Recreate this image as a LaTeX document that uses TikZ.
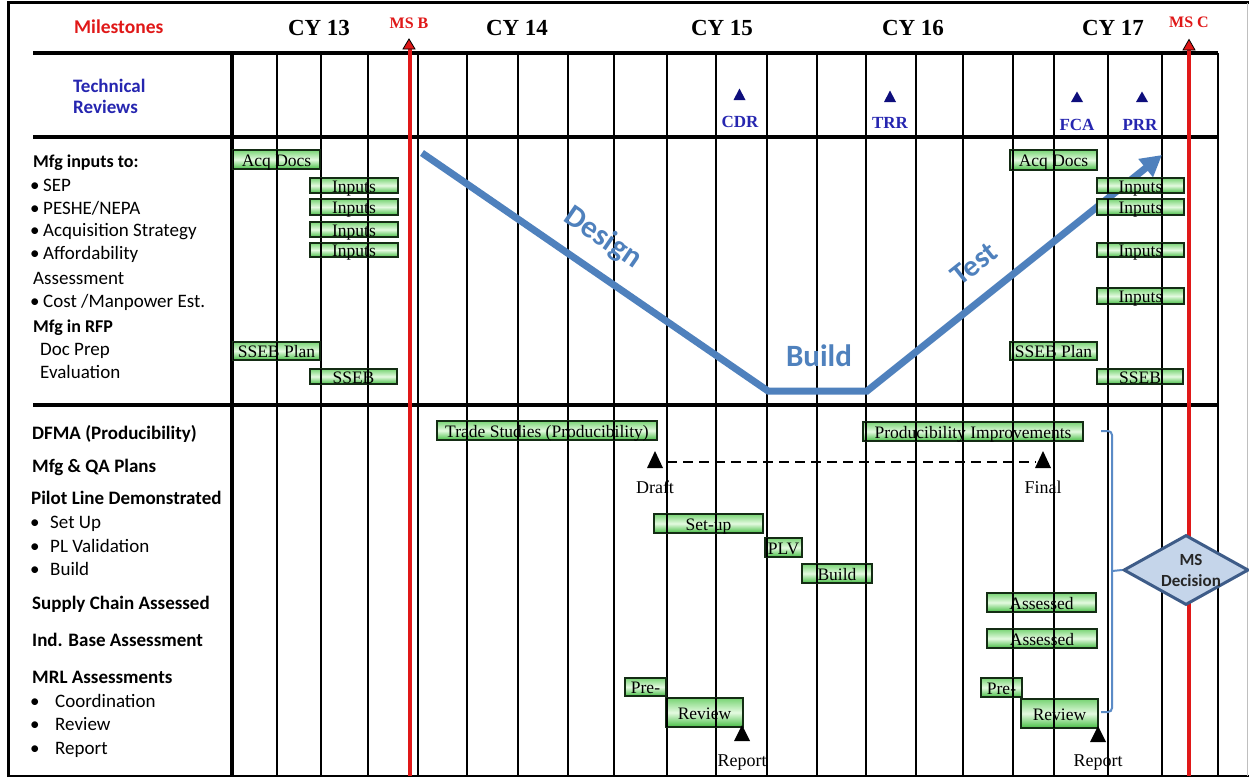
\documentclass[tikz,border=0pt]{standalone}
\usepackage{fontspec}
\setmainfont{Liberation Serif}
\newfontfamily\calfont{Carlito}
\usetikzlibrary{shapes.geometric,arrows.meta}
\definecolor{msred}{HTML}{E01818}
\definecolor{trblue}{HTML}{2626B0}
\definecolor{trtri}{HTML}{0E0E7C}
\definecolor{vblue}{HTML}{4F81BD}
\definecolor{barlight}{HTML}{E4FAE0}
\definecolor{bartop}{HTML}{78D474}
\definecolor{barbot}{HTML}{46BE44}
\definecolor{barborder}{HTML}{142C14}
\definecolor{dfill}{HTML}{C5D5EA}
\definecolor{dline}{HTML}{3E5C88}
\definecolor{bracecol}{HTML}{5B8BC6}
\newcommand\greenbar[6]{%
  \pgfmathsetmacro\gbw{#3-#2}\pgfmathsetmacro\gbh{#5-#4}%
  \pgfmathsetmacro\gbx{(#2+#3)/2}\pgfmathsetmacro\gby{(#4+#5)/2}%
  \node[gbar, minimum width=\gbw pt, minimum height=\gbh pt] (#1) at (\gbx,\gby) {};
  \node[bartext, anchor=base] (#1t) at ([yshift=-6.5pt]#1.center) {#6};
}
\begin{document}
\begin{tikzpicture}[x=1pt,y=-1pt,
  gridline/.style={line width=1.6pt, black},
  thickgrid/.style={line width=3.5pt, black},
  sepline/.style={line width=4pt, black},
  msline/.style={line width=4pt, msred},
  gbar/.style={draw=barborder, line width=1.6pt, inner sep=0pt, outer sep=0pt, top color=bartop, bottom color=barbot, middle color=barlight},
  bartext/.style={inner sep=0pt, font=\fontsize{17.5}{20}\selectfont},
  lab/.style={anchor=base west, inner sep=0pt, font=\calfont\fontsize{19}{22}\selectfont},
  labb/.style={anchor=base west, inner sep=0pt, font=\calfont\bfseries\fontsize{18}{22}\selectfont},
  low/.style={anchor=base west, inner sep=0pt, font=\calfont\fontsize{19}{22}\selectfont},
  lowb/.style={anchor=base west, inner sep=0pt, font=\calfont\bfseries\fontsize{19}{22}\selectfont},
  cy/.style={anchor=base, inner sep=0pt, font=\bfseries\fontsize{23}{26}\selectfont},
  mslab/.style={anchor=base, inner sep=0pt, text=msred, font=\bfseries\fontsize{16}{18}\selectfont},
  trlab/.style={anchor=base, inner sep=0pt, text=trblue, font=\bfseries\fontsize{17}{20}\selectfont},
  evlab/.style={anchor=base, inner sep=0pt, font=\fontsize{18}{20}\selectfont},
  vtext/.style={inner sep=0pt, text=vblue, font=\calfont\bfseries\fontsize{31}{33}\selectfont},
  ttri/.style={fill=trtri},
  btri/.style={fill=black},
  mtri/.style={fill=msred, draw=black, line width=0.8pt}
]
\useasboundingbox (0,0) rectangle (1249,777);
\fill[white] (0,0) rectangle (1249,777);
% frame
\draw[line width=3pt] (8.5,777) -- (8.5,2.5) -- (1249,2.5);
\draw[line width=2pt] (8.5,776) -- (1249,776);
\draw[line width=1pt, gray!50] (1247.5,2.5) -- (1247.5,776);
% separators
\foreach \y in {53,137,405} \draw[sepline] (33,\y) -- (1218,\y);
% grid
\foreach \x in {277,321,368,418,467,518,568,614,667,716,767,817,866,916,963,1013,1054,1108,1162,1218}
  \draw[gridline] (\x,53) -- (\x,776);
\draw[thickgrid] (232,53) -- (232,776);
% milestone lines
\draw[msline] (410,49) -- (410,776);
\draw[msline] (1189,49) -- (1189,776);
\draw[mtri] (403,49) -- (409,39) -- (415,49) -- cycle;
\draw[mtri] (1183,50) -- (1189,39.5) -- (1195,50) -- cycle;
% V curve
\coordinate (v0) at (422,153);
\coordinate (v1) at (768,391);
\coordinate (v2) at (867,391);
\coordinate (v3) at (1162,155);
\draw[vblue, line width=7pt, -{Triangle[length=21pt,width=22pt]}] (v0) -- (v1) -- (v2) -- (v3);
\node[vtext, rotate=-34.5] (design) at (603,238) {Design};
\node[vtext, rotate=38.5, font=\calfont\bfseries\fontsize{30}{32}\selectfont] (test) at (974,264) {Test};
\node[vtext, anchor=base, font=\calfont\bfseries\fontsize{31}{33}\selectfont] (build) at (819,366) {Build};
% bars
\greenbar{b1}{233}{320}{150}{169}{Acq Docs}
\greenbar{b2}{310}{398}{178}{193}{Inputs}
\greenbar{b3}{310}{398}{199}{215}{Inputs}
\greenbar{b4}{310}{398}{222}{237}{Inputs}
\greenbar{b5}{310}{398}{243}{257}{Inputs}
\greenbar{b6}{233}{320}{342}{360}{SSEB Plan}
\greenbar{b7}{310}{397}{369}{384}{SSEB}
\greenbar{b8}{1010}{1097}{150}{170}{Acq Docs}
\greenbar{b9}{1097}{1184}{178}{193}{Inputs}
\greenbar{b10}{1097}{1184}{199}{215}{Inputs}
\greenbar{b11}{1097}{1184}{243}{257}{Inputs}
\greenbar{b12}{1097}{1184}{288}{304}{Inputs}
\greenbar{b13}{1010}{1097}{342}{360}{SSEB Plan}
\greenbar{b14}{1097}{1183}{369}{384}{SSEB}
\greenbar{b15}{437}{657}{421}{440}{Trade Studies (Producibility)}
\greenbar{b16}{863}{1083}{422}{441}{Producibility Improvements}
\greenbar{b17}{654}{763}{514}{533}{Set-up}
\greenbar{b18}{765}{802}{538}{557}{PLV}
\greenbar{b19}{802}{872}{564}{583}{Build}
\greenbar{b20}{987}{1096}{593}{612}{Assessed}
\greenbar{b21}{987}{1097}{629}{648}{Assessed}
\greenbar{b22}{625}{666}{678}{696}{Pre-}
\greenbar{b23}{666}{743}{698}{727}{Review}
\greenbar{b24}{981}{1022}{678}{697}{Pre-}
\greenbar{b25}{1021}{1098}{699}{728}{Review}
% grid lines seen through the bars
\begin{scope}
\clip foreach \i in {1,...,25} {(b\i.south west) rectangle (b\i.north east)};
\foreach \x in {277,321,368,418,467,518,568,614,667,716,767,817,866,916,963,1013,1054,1108,1162,1218}
  \draw[gridline] (\x,53) -- (\x,776);
\draw[thickgrid] (232,53) -- (232,776);
\end{scope}
% header texts
\node[anchor=base west, inner sep=0pt, text=msred, font=\calfont\bfseries\fontsize{19.5}{22}\selectfont] (milestones) at (74,33) {Milestones};
\node[anchor=base west, inner sep=0pt, text=trblue, font=\calfont\bfseries\fontsize{19}{22}\selectfont] (tech1) at (73,92) {Technical};
\node[anchor=base west, inner sep=0pt, text=trblue, font=\calfont\bfseries\fontsize{19}{22}\selectfont] (tech2) at (73,113) {Reviews};
\node[cy] (cy13) at (319,35) {CY 13};
\node[cy] (cy14) at (517,35) {CY 14};
\node[cy] (cy15) at (722,35) {CY 15};
\node[cy] (cy16) at (913,35) {CY 16};
\node[cy] (cy17) at (1113,35) {CY 17};
\node[mslab] (msb) at (409,28) {MS B};
\node[mslab] (msc) at (1189,27) {MS C};
% technical reviews
\fill[ttri] (733.5,100) -- (739.5,88.5) -- (745.5,100) -- cycle;
\fill[ttri] (884,102) -- (890,90.5) -- (896,102) -- cycle;
\fill[ttri] (1071,102) -- (1077,91.5) -- (1083,102) -- cycle;
\fill[ttri] (1136,102) -- (1142,91.5) -- (1148,102) -- cycle;
\node[trlab] (cdr) at (740,127) {CDR};
\node[trlab] (trr) at (890,128) {TRR};
\node[trlab] (fca) at (1077,130) {FCA};
\node[trlab] (prr) at (1140,130) {PRR};
% upper left labels
\node[labb] (l1) at (33,167) {Mfg inputs to:};
\node[lab] (u1) at (30,191) {•}; \node[lab] (l2) at (43,191) {SEP};
\node[lab] (u2) at (30,214) {•}; \node[lab] (l3) at (43,214) {PESHE/NEPA};
\node[lab] (u3) at (30,236) {•}; \node[lab] (l4) at (43,236) {Acquisition Strategy};
\node[lab] (u4) at (30,259) {•}; \node[lab] (l5) at (43,259) {Affordability};
\node[lab] (l6) at (33,284) {Assessment};
\node[lab] (u5) at (30,307) {•}; \node[lab] (l7) at (43,307) {Cost /Manpower Est.};
\node[labb] (l8) at (33,332) {Mfg in RFP};
\node[lab] (l9) at (40,355) {Doc Prep};
\node[lab] (l10) at (40,378) {Evaluation};
% lower left labels
\node[lowb] (m1) at (32,439) {DFMA (Producibility)};
\node[lowb] (m2) at (32,472) {Mfg \& QA Plans};
\node[lowb] (m3) at (31,504) {Pilot Line Demonstrated};
\node[low] (p1) at (30,528) {•}; \node[low] (m4) at (50,528) {Set Up};
\node[low] (p2) at (30,552) {•}; \node[low] (m5) at (50,552) {PL Validation};
\node[low] (p3) at (30,575) {•}; \node[low] (m6) at (50,575) {Build};
\node[lowb] (m7) at (32,609) {Supply Chain Assessed};
\node[lowb] (m8) at (32,646) {Ind. Base Assessment};
\node[lowb] (m9) at (32,683) {MRL Assessments};
\node[low] (p4) at (30,707) {•}; \node[low] (m10) at (55,707) {Coordination};
\node[low] (p5) at (30,730) {•}; \node[low] (m11) at (55,730) {Review};
\node[low] (p6) at (30,754) {•}; \node[low] (m12) at (55,754) {Report};
% events
\fill[btri] (647,468) -- (655,451) -- (663,468) -- cycle;
\fill[btri] (1035,468) -- (1043,451) -- (1051,468) -- cycle;
\fill[btri] (734,741) -- (742,725) -- (750,741) -- cycle;
\fill[btri] (1090,742) -- (1098,726) -- (1106,742) -- cycle;
\coordinate (draftR) at (667,462);
\coordinate (finalL) at (1036,462);
\draw[line width=1.5pt, dash pattern=on 10pt off 6pt] (draftR) -- (finalL);
\node[evlab] (draft) at (655,493) {Draft};
\node[evlab] (final) at (1043,493) {Final};
\node[evlab] (rep1) at (742,766) {Report};
\node[evlab] (rep2) at (1098,766) {Report};
% decision
\node[diamond, draw=dline, fill=dfill, line width=3pt, minimum width=125pt, minimum height=70pt, inner sep=0pt] (dia) at (1186,570) {};
\node[inner sep=0pt, align=center, text=black!85, font=\calfont\bfseries\fontsize{17}{21}\selectfont] (diat) at (1191,570) {MS\\Decision};
\draw[bracecol, line width=2pt, rounded corners=4pt] (1101,431) -- (1112,431) -- (1112,712) -- (1101,712);
\coordinate (bmid) at (1112,571);
\draw[bracecol, line width=2pt] (bmid) -- (dia.west);
\end{tikzpicture}
\end{document}
